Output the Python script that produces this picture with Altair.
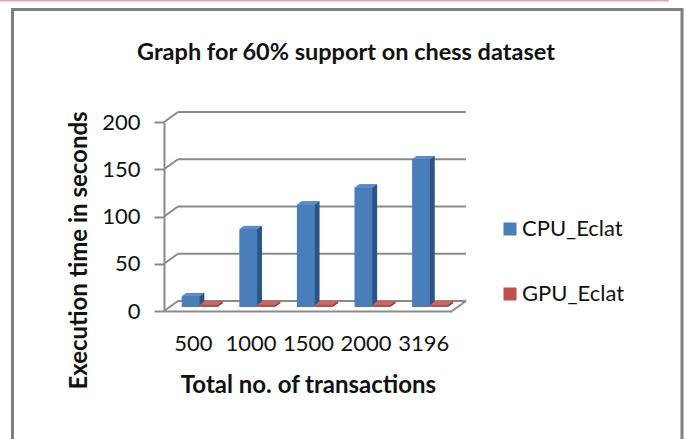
import json

import altair as alt
import pandas as pd

# ---- data -----------------------------------------------------------------
categories = ["500", "1000", "1500", "2000", "3196"]
series_names = ["CPU_Eclat", "GPU_Eclat"]
cpu_eclat = [11, 82, 108, 126, 156]
gpu_eclat = [2, 2, 2, 2, 2]
y_ticks = [0, 50, 100, 150, 200]

# ---- styling --------------------------------------------------------------
FONT = "Lato"
W, H = 288, 189            # front face of the plot box
DX, DY = 14, -10           # depth of the box (front -> back wall)
BX, BY = 5.6, -4           # bars stand half way into the box
STEP_X, STEP_Y, STEPS = 0.8, -0.6, 6   # bar thickness
GRID = "#8a8a8a"
INK = "#111111"

slot = {"CPU_Eclat": (0.21, 0.52), "GPU_Eclat": (0.53, 0.84)}
front_col = {"CPU_Eclat": "#4a7ebb", "GPU_Eclat": "#c0504d"}
side_col = {"CPU_Eclat": "#2b5586", "GPU_Eclat": "#8b2f2c"}
top_col = {"CPU_Eclat": "#6f97cf", "GPU_Eclat": "#d87470"}

rows = []
for i, cat in enumerate(categories):
    for name, vals in zip(series_names, [cpu_eclat, gpu_eclat]):
        rows.append({
            "category": cat,
            "series": name,
            "value": vals[i],
            "x0": i + slot[name][0],
            "x1": i + slot[name][1],
        })
bars = pd.DataFrame(rows)
ticks = pd.DataFrame({"tick": y_ticks})
one = pd.DataFrame({"k": [0]})

x_scale = alt.Scale(domain=[0, len(categories)], nice=False, zero=False)
y_scale = alt.Scale(domain=[0, 200], nice=False, zero=True)

x_axis = alt.Axis(
    values=[i + 0.5 for i in range(len(categories))],
    labelExpr=f"{json.dumps(categories)}[floor(datum.value)]",
    ticks=False, grid=False,
    domainColor=GRID, domainWidth=2,
    labelFont=FONT, labelFontSize=22, labelColor=INK,
    labelBaseline="middle", labelPadding=32,
    labelOverlap=False, labelFlush=False,
    title="Total no. of transactions",
    titleFont=FONT, titleFontSize=24, titleFontWeight="bold", titleColor=INK,
    titleX=W / 2, titleY=74, titleBaseline="middle", titleAlign="center",
)
y_axis = alt.Axis(
    values=y_ticks,
    tickSize=10, tickColor=GRID, tickWidth=2,
    grid=False,
    domainColor=GRID, domainWidth=2,
    labelFont=FONT, labelFontSize=22, labelColor=INK,
    labelPadding=14, labelOverlap=False, labelFlush=False,
    title="Execution time in seconds",
    titleFont=FONT, titleFontSize=24, titleFontWeight="bold", titleColor=INK,
    titleX=-85, titleY=128, titleBaseline="middle", titleAlign="center", titleAngle=270,
)


def xq(field=None, datum=None):
    if datum is not None:
        return alt.X(datum=datum, type="quantitative", scale=x_scale, axis=x_axis)
    return alt.X(field, type="quantitative", scale=x_scale, axis=x_axis)


def yq(field=None, datum=None):
    if datum is not None:
        return alt.Y(datum=datum, type="quantitative", scale=y_scale, axis=y_axis)
    return alt.Y(field, type="quantitative", scale=y_scale, axis=y_axis)


# ---- outer frame ----------------------------------------------------------
frame = alt.Chart(one).mark_rect(fill=None, stroke="#7f7f7f", strokeWidth=3).encode(
    x=alt.value(12.5 - 164), x2=alt.value(682 - 164),
    y=alt.value(9.5 - 122), y2=alt.value(460 - 122),
)
top_strip = alt.Chart(one).mark_rect(color="#eaa6a6").encode(
    x=alt.value(-164), x2=alt.value(669 - 164),
    y=alt.value(-122), y2=alt.value(-120.5),
)

# ---- back wall gridlines and side edges ----------------------------------
back_grid = alt.Chart(ticks).mark_rule(
    color=GRID, strokeWidth=2, xOffset=DX, x2Offset=DX, yOffset=DY, y2Offset=DY
).encode(x=xq(datum=0), x2=alt.X2(datum=len(categories)), y=yq("tick"))

diagonals = alt.Chart(ticks).mark_rule(
    color=GRID, strokeWidth=2, x2Offset=DX, y2Offset=DY
).encode(x=xq(datum=0), x2=alt.X2(datum=0), y=yq("tick"), y2=alt.Y2("tick"))

floor_right = alt.Chart(one).mark_rule(
    color=GRID, strokeWidth=2, x2Offset=DX, y2Offset=DY
).encode(
    x=xq(datum=len(categories)), x2=alt.X2(datum=len(categories)),
    y=yq(datum=0), y2=alt.Y2(datum=0),
)

# ---- 3-D columns ----------------------------------------------------------
layers = [frame, top_strip, back_grid, diagonals, floor_right]
for name in series_names:
    base = alt.Chart(bars).transform_filter(alt.datum.series == name)
    # side / depth of the column
    for k in range(1, STEPS + 1):
        ox, oy = BX + STEP_X * k, BY + STEP_Y * k
        layers.append(
            base.mark_bar(color=side_col[name], xOffset=ox, x2Offset=ox,
                          yOffset=oy, y2Offset=oy).encode(
                x=xq("x0"), x2=alt.X2("x1"), y=yq("value"), y2=alt.Y2(datum=0))
        )
    # lid of the column
    for k in range(0, STEPS):
        ox, oy = BX + STEP_X * k, BY + STEP_Y * k
        layers.append(
            base.mark_bar(color=top_col[name], xOffset=ox, x2Offset=ox + 0.2,
                          yOffset=oy - 0.7, y2Offset=oy).encode(
                x=xq("x0"), x2=alt.X2("x1"), y=yq("value"), y2=alt.Y2("value"))
        )
    # front face (carries the legend)
    layers.append(
        base.mark_bar(xOffset=BX, x2Offset=BX, yOffset=BY, y2Offset=BY).encode(
            x=xq("x0"), x2=alt.X2("x1"), y=yq("value"), y2=alt.Y2(datum=0),
            color=alt.Color(
                "series:N",
                scale=alt.Scale(domain=series_names,
                                range=[front_col[s] for s in series_names]),
                legend=alt.Legend(
                    title=None, orient="none", legendX=335, legendY=96,
                    symbolType="square", symbolSize=169, symbolStrokeWidth=0,
                    labelFont=FONT, labelFontSize=22, labelColor=INK,
                    labelOffset=1, rowPadding=43, padding=0,
                ),
            ),
        )
    )

chart = alt.layer(*layers).properties(
    width=W,
    height=H,
    autosize=alt.AutoSizeParams(type="none"),
    padding={"left": 164, "top": 122, "right": 687 - 164 - W, "bottom": 439 - 122 - H},
    background="white",
    title=alt.TitleParams(
        "Graph for 60% support on chess dataset",
        font=FONT, fontSize=23.5, fontWeight="bold", color=INK,
        anchor="middle", frame="group", baseline="middle", offset=0, dx=38, dy=76,
    ),
).configure_view(stroke=None)

chart.save("out.html", embed_options={"renderer": "svg", "actions": False})
